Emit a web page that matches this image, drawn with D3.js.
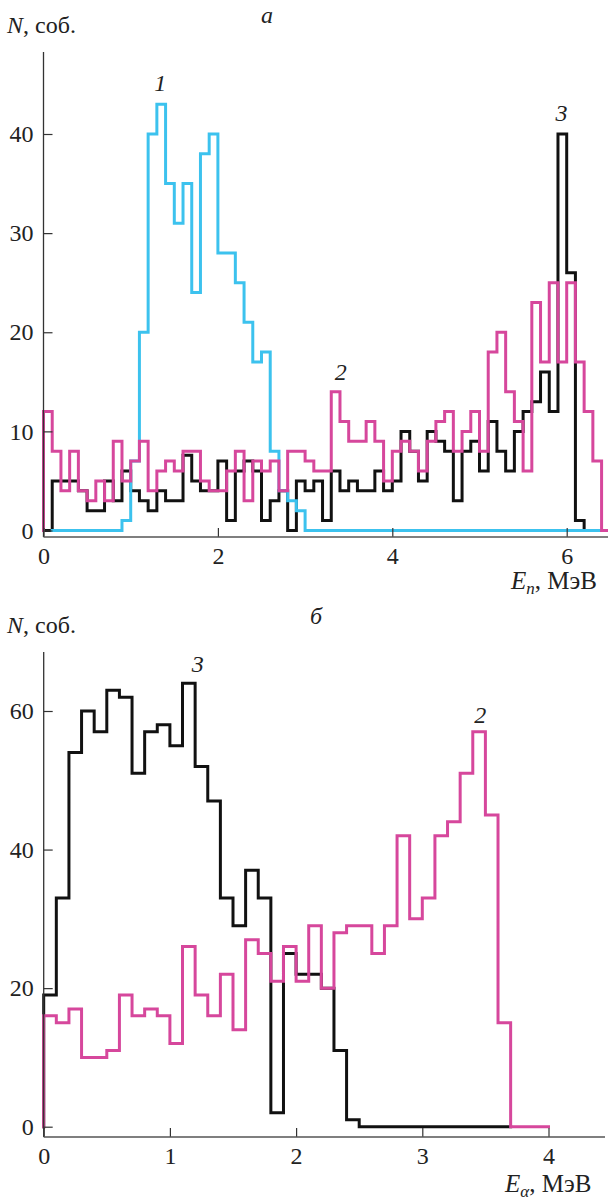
<!DOCTYPE html>
<html><head><meta charset="utf-8">
<script src="https://cdn.jsdelivr.net/npm/d3@7"></script>
<style>
html,body{margin:0;padding:0;background:#fff;}
svg{display:block;}
</style></head>
<body>
<svg id="c" width="608" height="1204"></svg>
<script>
// ---------- DATA ----------
const binWidth = 0.1;
// panel a: neutron energy spectra, bins of 0.1 MeV
const topBlueStart = 0.1;
const topBlue = [0,0,0,0,0,0,0,0, 1,7,20,40,43,35,31,35,24,38,40,28,28,25,21,17,18,8,4,3,2,
  0,0,0,0,0,0,0,0,0,0,0,0,0,0,0,0,0,0,0,0,0,0,0,0,0,0,0,0,0,0,0,0,0,0,0];
const topBlackStart = 0;
const topBlack = [0,5,5,5,4,2,2,5,3,6, 4,3,2,4,3,3,7.6,5,4,4, 7,1,6,7,6,1,3,4,0,5,
  4,5,1,6,4,5,4,4,6,4, 5,10,8,5,10,9,8,3,8,9, 6,11,8,6,10,12,13,16,12,40, 26,1,0,0];
const topPinkStart = 0;
const topPink = [12,8,4,8,4,3,5,3,9,5, 7,9,4,6,7,6,8,8,5,4, 4,6,8,3,7,6,7,4,8,8,
  7,6,6,14,11,9,9,11,9,5, 8,9,8,6,9,11,12,8,10,12, 8,18,20,14,11,6,23,17,25,17, 25,17,12,7,0];
const topXTicks = [0,2,4,6];
const topYTicks = [0,10,20,30,40];
// panel б: alpha energy spectra, bins of 0.1 MeV
const botBlackStart = 0;
const botBlack = [19,33,54,60,57,63,62,51,57,58, 55,64,52,47,33,29,37,33,2,25,
  22,22,20,11,1,0,0,0,0,0, 0,0,0,0,0,0,0];
const botPinkStart = 0;
const botPink = [16,15,17,10,10,11,19,16,17,16, 12,26,19,16,22,14,27,25,21,26,
  21,29,20,28,29,29,25,29,42,30, 33,42,44,51,57,45,15,0,0,0];
const botXTicks = [0,1,2,3,4];
const botYTicks = [0,20,40,60];
const topLabels = [{t:"1",x:1.34,y:44.3},{t:"2",x:3.41,y:15.2},{t:"3",x:5.94,y:41.3}];
const botLabels = [{t:"3",x:1.22,y:65.6},{t:"2",x:3.46,y:58.2}];

// ---------- DRAW ----------
const svg = d3.select("#c");
const C_BLUE = "#3cc2ee", C_PINK = "#d6479c", C_BLACK = "#111";
const FONT = "'Liberation Serif'";
const FS = 24;

function txt(sel){ return sel.style("font-family",FONT).style("fill","#222"); }

function panel(cfg){
  const g = svg.append("g");
  const x = d3.scaleLinear().domain(cfg.xDom).range(cfg.xRange);
  const y = d3.scaleLinear().domain(cfg.yDom).range(cfg.yRange);
  const line = d3.line().x(d=>x(d[0])).y(d=>y(d[1])).curve(d3.curveStepAfter);
  function pts(start, vals){
    const p = [[start,0]];
    vals.forEach((v,i)=>p.push([start+i*binWidth, v]));
    p.push([start+vals.length*binWidth, vals[vals.length-1]]);
    return p;
  }
  const clipId = "clip"+cfg.id;
  svg.append("clipPath").attr("id",clipId).append("rect")
    .attr("x",cfg.xRange[0]-3).attr("y",cfg.axisTop).attr("width",608-cfg.xRange[0]+3).attr("height",cfg.axisY-cfg.axisTop+5);
  const sg = g.append("g").attr("clip-path",`url(#${clipId})`);
  cfg.series.forEach(s=>{
    sg.append("path").attr("d", line(pts(s.start, s.vals)))
      .attr("fill","none").attr("stroke",s.color).attr("stroke-width",3)
      .attr("stroke-linejoin","miter").attr("stroke-linecap","square");
  });
  const fmt = d3.format("d");
  const yAx = d3.axisLeft(y).tickValues(cfg.yTicks).tickFormat(fmt).tickSizeInner(-9).tickSizeOuter(0).tickPadding(10);
  const ga = g.append("g").attr("transform",`translate(${cfg.xRange[0]},0)`).call(yAx);
  const xAx = d3.axisBottom(x).tickValues(cfg.xTicks).tickFormat(fmt).tickSizeInner(-9).tickSizeOuter(0).tickPadding(10);
  const gx = g.append("g").attr("transform",`translate(0,${cfg.axisY})`).call(xAx);
  [ga,gx].forEach(a=>{
    a.attr("font-family",null).attr("font-size",null);
    a.select(".domain").remove();
    a.selectAll(".tick line").attr("stroke","#333").attr("stroke-width",1.2);
    txt(a.selectAll(".tick text")).style("font-size",FS+"px");
  });
  g.append("line").attr("x1",cfg.xRange[0]).attr("x2",cfg.xRange[0]).attr("y1",cfg.axisTop).attr("y2",cfg.axisY)
    .attr("stroke","#333").attr("stroke-width",1.3);
  g.append("line").attr("x1",cfg.xRange[0]).attr("x2",cfg.axisRight).attr("y1",cfg.axisY).attr("y2",cfg.axisY)
    .attr("stroke","#555").attr("stroke-width",1.3);
  const yt = txt(g.append("text")).attr("x",7).attr("y",cfg.yTitleY).style("font-size",FS+"px");
  yt.append("tspan").style("font-style","italic").text("N");
  yt.append("tspan").text(", соб.");
  txt(g.append("text")).attr("x",cfg.letterX).attr("y",cfg.letterY).style("font-size",FS+"px").style("font-style","italic")
    .attr("text-anchor","middle").text(cfg.letter);
  const xt = txt(g.append("text")).attr("x",cfg.xTitleX).attr("y",cfg.xTitleY).style("font-size","25px");
  xt.append("tspan").style("font-style","italic").text("E");
  xt.append("tspan").style("font-style","italic").style("font-size","17px").attr("dy",5).text(cfg.sub);
  xt.append("tspan").attr("dy",-5).text(", МэВ");
  cfg.labels.forEach(l=>{
    txt(g.append("text")).attr("x",x(l.x)).attr("y",y(l.y)).style("font-size","24px").style("font-style","italic")
      .attr("text-anchor","middle").text(l.t);
  });
}

panel({id:"a", xDom:[0,6.5], xRange:[43.5, 43.5+6.5*87.2], yDom:[0,40], yRange:[530.5,134],
  axisY:537, axisTop:52, axisRight:608, xTicks:topXTicks, yTicks:topYTicks,
  series:[{start:topBlackStart, vals:topBlack, color:C_BLACK},
          {start:topBlueStart, vals:topBlue, color:C_BLUE},
          {start:topPinkStart, vals:topPink, color:C_PINK}],
  yTitleY:33, letter:"а", letterX:267, letterY:23, xTitleX:511, xTitleY:589, sub:"n",
  labels:topLabels});

panel({id:"b", xDom:[0,4], xRange:[43.7, 548.5], yDom:[0,60], yRange:[1126.7,711],
  axisY:1137, axisTop:652, axisRight:605, xTicks:botXTicks, yTicks:botYTicks,
  series:[{start:botBlackStart, vals:botBlack, color:C_BLACK},
          {start:botPinkStart, vals:botPink, color:C_PINK}],
  yTitleY:633, letter:"б", letterX:316, letterY:624, xTitleX:505, xTitleY:1192, sub:"α",
  labels:botLabels});
</script>
</body></html>
